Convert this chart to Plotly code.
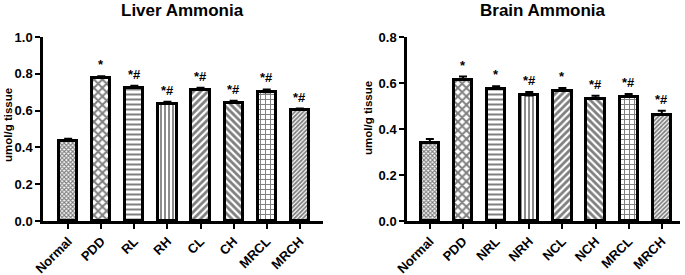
import plotly.graph_objects as go

liver_groups = ["Normal", "PDD", "RL", "RH", "CL", "CH", "MRCL", "MRCH"]
liver_values = [0.435, 0.777, 0.723, 0.636, 0.712, 0.641, 0.700, 0.603]
liver_errors = [0.012, 0.010, 0.012, 0.012, 0.012, 0.012, 0.015, 0.008]
liver_marks = ["", "*", "*#", "*#", "*#", "*#", "*#", "*#"]

brain_groups = ["Normal", "PDD", "NRL", "NRH", "NCL", "NCH", "MRCL", "MRCH"]
brain_values = [0.340, 0.614, 0.576, 0.546, 0.566, 0.531, 0.540, 0.462]
brain_errors = [0.016, 0.014, 0.010, 0.015, 0.012, 0.014, 0.012, 0.017]
brain_marks = ["", "*", "*", "*#", "*", "*#", "*#", "*#"]

y_ticks_liver = [0.0, 0.2, 0.4, 0.6, 0.8, 1.0]
y_ticks_brain = [0.0, 0.2, 0.4, 0.6, 0.8]

patterns = [
    dict(shape="x", size=3, solidity=0.6),
    dict(shape="x", size=6, solidity=0.55),
    dict(shape="-", size=5, solidity=0.4),
    dict(shape="|", size=4, solidity=0.45),
    dict(shape="/", size=5, solidity=0.55),
    dict(shape="\\", size=5, solidity=0.55),
    dict(shape="+", size=5, solidity=0.35),
    dict(shape="/", size=3, solidity=0.6),
]

FONT = "Arial, Liberation Sans, sans-serif"
fig = go.Figure()

def add_panel(groups, values, errors, marks, xa, ya):
    xs = list(range(len(groups)))
    for i in xs:
        p = patterns[i]
        fig.add_trace(go.Bar(
            x=[i], y=[values[i]], width=0.55,
            xaxis=xa, yaxis=ya, showlegend=False,
            marker=dict(color="white", line=dict(color="black", width=3),
                        pattern=dict(shape=p["shape"], size=p["size"], solidity=p["solidity"],
                                     fgcolor="black", bgcolor="white", fillmode="overlay")),
            error_y=dict(type="data", symmetric=False, array=[errors[i]], arrayminus=[0],
                         color="black", thickness=2, width=4),
        ))
        if marks[i]:
            fig.add_annotation(x=i, y=values[i] + errors[i], xref=xa, yref=ya,
                               text="<b>" + marks[i] + "</b>", showarrow=False,
                               yanchor="bottom", yshift=2,
                               font=dict(family=FONT, size=13, color="black"))

add_panel(liver_groups, liver_values, liver_errors, liver_marks, "x", "y")
add_panel(brain_groups, brain_values, brain_errors, brain_marks, "x2", "y2")

W, H = 685, 275

def px(x):
    return x / W

def py(y):
    return 1 - y / H

ydom = [py(221), py(37)]
axis_common = dict(showline=True, linecolor="black", linewidth=2.5, ticks="outside",
                   ticklen=5, tickwidth=2, tickcolor="black", showgrid=False, zeroline=False,
                   automargin=False,
                   tickfont=dict(family=FONT, size=13, color="black"))

def bold(lst):
    return ["<b>" + s + "</b>" for s in lst]

fig.update_layout(
    width=W, height=H, margin=dict(l=0, r=0, t=0, b=0),
    plot_bgcolor="white", paper_bgcolor="white", bargap=0,
    xaxis=dict(domain=[px(43), px(323)], range=[-0.76, 7.7], tickmode="array",
               tickvals=list(range(8)), ticktext=bold(liver_groups), tickangle=-45, anchor="y", **axis_common),
    yaxis=dict(domain=ydom, range=[0, 1.0], tickmode="array", tickvals=y_ticks_liver,
               ticktext=bold([f"{v:.1f}" for v in y_ticks_liver]), anchor="x", **axis_common),
    xaxis2=dict(domain=[px(407), px(680)], range=[-0.69, 7.55], tickmode="array",
                tickvals=list(range(8)), ticktext=bold(brain_groups), tickangle=-45, anchor="y2", **axis_common),
    yaxis2=dict(domain=ydom, range=[0, 0.8], tickmode="array", tickvals=y_ticks_brain,
                ticktext=bold([f"{v:.1f}" for v in y_ticks_brain]), anchor="x2", **axis_common),
)

fig.add_annotation(x=px(183), y=1, xref="paper", yref="paper", showarrow=False,
                   text="<b>Liver Ammonia</b>", font=dict(family=FONT, size=17, color="black"),
                   xanchor="center", yanchor="top", borderpad=0)
fig.add_annotation(x=px(543), y=1, xref="paper", yref="paper", showarrow=False,
                   text="<b>Brain Ammonia</b>", font=dict(family=FONT, size=17, color="black"),
                   xanchor="center", yanchor="top", borderpad=0)
fig.add_annotation(x=px(8), y=py(125), xref="paper", yref="paper", showarrow=False,
                   text="<b>umol/g tissue</b>", textangle=-90,
                   font=dict(family=FONT, size=11.5, color="black"),
                   xanchor="center", yanchor="middle")
fig.add_annotation(x=px(368), y=py(118), xref="paper", yref="paper", showarrow=False,
                   text="<b>umol/g tissue</b>", textangle=-90,
                   font=dict(family=FONT, size=11.5, color="black"),
                   xanchor="center", yanchor="middle")

fig.write_html("out.html", config={"displayModeBar": False},
               post_script="document.body.style.margin='0px';")
